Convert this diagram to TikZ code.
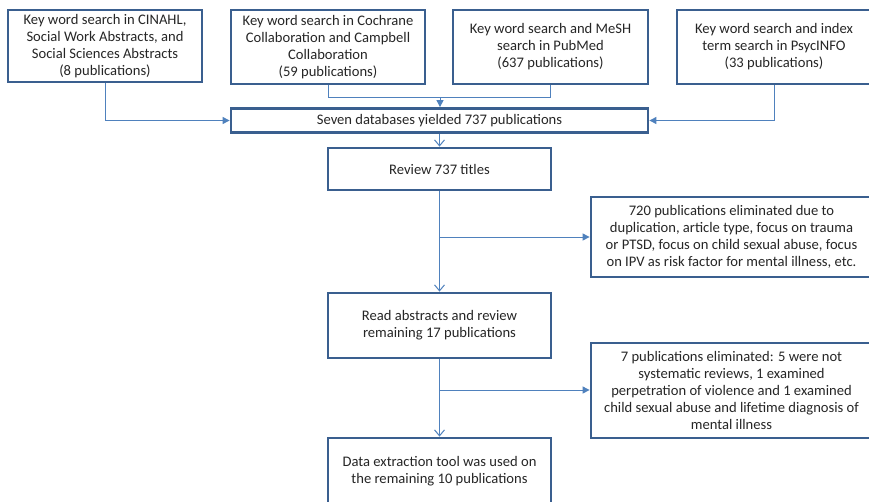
\documentclass[tikz,border=0pt]{standalone}
\usepackage{fontspec}
\setmainfont{Carlito}
\usetikzlibrary{arrows.meta}
\definecolor{boxblue}{RGB}{58,95,143}
\definecolor{lineblue}{RGB}{79,129,189}
\definecolor{txt}{RGB}{38,38,38}
\tikzset{
  box/.style={draw=boxblue, line width=2.8pt, fill=white, inner sep=0pt, align=center,
    text=txt, font=\fontsize{14.6}{17}\selectfont},
  conn/.style={draw=lineblue, line width=1pt},
  filltip/.style={conn, -{Triangle[width=7pt,length=7pt]}},
  opentip/.style={conn, -{Straight Barb[width=10pt,length=6pt,line width=1pt]}}
}
\begin{document}
\begin{tikzpicture}[x=1pt,y=-1pt]
\clip (0,0) rectangle (869,501);
\fill[white] (0,0) rectangle (869,501);
% top row
\node[box, minimum width=194pt, minimum height=72pt] (b1) at (105,46)
  {Key word search in CINAHL,\\Social Work Abstracts, and\\Social Sciences Abstracts\\(8 publications)};
\node[box, minimum width=194pt, minimum height=74pt] (b2) at (328,47)
  {Key word search in Cochrane\\Collaboration and Campbell\\Collaboration\\(59 publications)};
\node[box, minimum width=195pt, minimum height=74pt] (b3) at (550.5,47)
  {Key word search and MeSH\\search in PubMed\\(637 publications)};
\node[box, minimum width=194pt, minimum height=74pt] (b4) at (774,47)
  {Key word search and index\\term search in PsycINFO\\(33 publications)};
% main column
\node[box, minimum width=417pt, minimum height=24pt] (seven) at (439.5,120.5)
  {Seven databases yielded 737 publications};
\node[box, minimum width=223pt, minimum height=42pt] (review) at (439.5,169)
  {Review 737 titles};
\node[box, minimum width=223pt, minimum height=65pt] (read) at (439.5,325.5)
  {Read abstracts and review\\remaining 17 publications};
\node[box, minimum width=223pt, minimum height=66pt] (data) at (439.5,471)
  {Data extraction tool was used on\\the remaining 10 publications};
% side boxes
\node[box, minimum width=281pt, minimum height=80pt] (elim1) at (731.5,237)
  {720 publications eliminated due to\\duplication, article type, focus on trauma\\or PTSD, focus on child sexual abuse, focus\\on IPV as risk factor for mental illness, etc.};
\node[box, minimum width=281pt, minimum height=95pt] (elim2) at (731.5,390.5)
  {7 publications eliminated: 5 were not\\systematic reviews, 1 examined\\perpetration of violence and 1 examined\\child sexual abuse and lifetime diagnosis of\\mental illness};
% connectors
\coordinate (m23) at (440,97);
\coordinate (br1) at (440,237);
\coordinate (br2) at (440,390);
\draw[filltip] (b1.south) |- (seven.west);
\draw[conn] (b2.south) |- (m23);
\draw[conn] (b3.south) |- (m23);
\draw[filltip] (m23) -- (m23 |- seven.north);
\draw[filltip] (b4.south) |- (seven.east);
\draw[opentip] (seven.south) -- (review.north);
\draw[opentip] (review.south) -- (read.north);
\draw[filltip] (br1) -- (br1 -| elim1.west);
\draw[opentip] (read.south) -- (data.north);
\draw[filltip] (br2) -- (br2 -| elim2.west);
\end{tikzpicture}
\end{document}
